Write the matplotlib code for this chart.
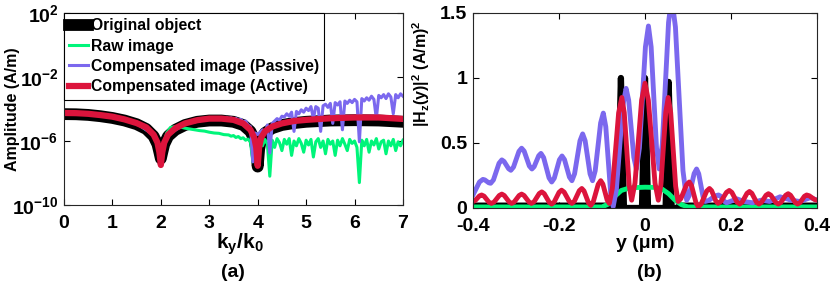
import numpy as np
import matplotlib
matplotlib.use('Agg')
import matplotlib.pyplot as plt

plt.rcParams['font.family'] = 'Liberation Sans'
plt.rcParams['font.weight'] = 'bold'
plt.rcParams['mathtext.fontset'] = 'custom'
plt.rcParams['mathtext.rm'] = 'Liberation Sans:bold'
plt.rcParams['mathtext.bf'] = 'Liberation Sans:bold'
plt.rcParams['mathtext.it'] = 'Liberation Sans:bold'
plt.rcParams['mathtext.default'] = 'bf'

# ---------------- panel (a): spectra, log10 of amplitude ----------------
k_smooth = [0, 0.25, 0.5, 0.75, 1, 1.25, 1.5, 1.7, 1.85, 1.93, 1.97, 2.0, 2.03, 2.07,
            2.15, 2.3, 2.5, 2.75, 3, 3.25, 3.5, 3.7, 3.85, 3.93, 3.97, 4.0, 4.03,
            4.07, 4.15, 4.3, 4.5, 4.75, 5, 5.5, 6, 6.5, 7]
log_orig = [-4.32, -4.33, -4.37, -4.45, -4.56, -4.72, -4.95, -5.25, -5.7, -6.2, -6.7,
            -7.1, -6.7, -6.2, -5.7, -5.3, -5.0, -4.8, -4.72, -4.72, -4.8, -5.0, -5.4,
            -5.9, -6.5, -7.6, -6.5, -5.9, -5.5, -5.2, -5.0, -4.88, -4.8, -4.72, -4.7,
            -4.72, -4.8]
log_active = [-4.25, -4.26, -4.3, -4.38, -4.48, -4.65, -4.88, -5.15, -5.6, -6.1, -6.7,
              -7.5, -6.7, -6.1, -5.6, -5.2, -4.9, -4.7, -4.6, -4.6, -4.68, -4.9, -5.3,
              -5.8, -6.4, -7.55, -6.4, -5.8, -5.4, -5.1, -4.9, -4.75, -4.68, -4.58,
              -4.53, -4.53, -4.62]

k_raw_a = [0, 0.5, 1, 1.5, 1.85, 1.97, 2.0, 2.05, 2.12, 2.2, 2.3, 2.4, 2.5, 2.6, 2.7,
           2.8, 2.9, 3.0, 3.1, 3.2, 3.3]
log_raw_a = [-4.27, -4.32, -4.5, -4.9, -5.6, -6.6, -7.3, -6.3, -5.5, -5.15, -5.1,
             -5.12, -5.2, -5.25, -5.3, -5.35, -5.38, -5.45, -5.5, -5.52, -5.6]
log_raw_b = [-5.62, -5.70, -5.66, -5.78, -5.72, -5.85, -5.80, -5.95, -5.88, -6.05,
             -7.3, -5.95, -6.1, -5.85, -6.3, -5.9, -6.2, -8.2, -5.95, -6.4,
             -5.85, -6.1, -6.6, -5.9, -6.2, -5.85, -6.9, -6.0, -6.3, -5.85,
             -6.15, -6.7, -5.95, -6.25, -5.9, -7.0, -6.05, -5.85, -6.4, -6.0,
             -6.8, -5.9, -6.2, -6.0, -6.9, -5.95, -6.3, -5.85, -6.2, -6.6,
             -5.9, -6.15, -6.0, -6.4, -8.6, -5.95, -6.3, -5.9, -6.7, -6.0,
             -6.25, -5.85, -6.5, -6.05, -5.95, -6.8, -6.0, -6.3, -5.9, -6.6,
             -6.05, -6.3, -5.95]
k_raw_b = np.linspace(3.4, 7.0, len(log_raw_b))

k_pas_a = [0, 0.5, 1, 1.5, 1.85, 1.97, 2.0, 2.03, 2.15, 2.5, 3.0, 3.2]
log_pas_a = [-4.27, -4.32, -4.5, -4.9, -5.62, -6.6, -7.3, -6.6, -5.62, -4.92, -4.62, -4.6]
log_pas_b = [-4.55, -4.62, -4.52, -4.6, -4.55, -4.65, -4.58, -4.7, -4.65, -4.8,
             -4.75, -5.0, -5.1, -7.3, -5.5, -5.6, -5.45, -5.3, -5.5, -5.0,
             -6.75, -4.9, -4.75, -4.6, -4.7, -4.45, -4.5, -4.3, -4.45, -4.2,
             -5.4, -4.15, -4.3, -4.05, -4.2, -3.95, -4.1, -3.85, -4.6, -3.85,
             -3.95, -5.4, -3.8, -3.7, -3.9, -3.65, -4.9, -3.6, -3.75, -3.55,
             -5.3, -3.5, -3.65, -3.45, -3.6, -3.4, -3.55, -6.05, -3.35, -3.5,
             -3.3, -3.45, -3.2, -3.4, -4.6, -3.15, -3.3, -3.1, -3.35, -3.05,
             -3.25, -4.3, -3.1, -3.3, -3.05, -3.2]
k_pas_b = np.linspace(3.25, 7.0, len(log_pas_b))

# ---------------- panel (b): field intensity ----------------
y_orig = [-0.40, -0.082, -0.074, -0.063, -0.059, -0.056, -0.053, -0.049, -0.007,
          -0.003, 0.0, 0.003, 0.007, 0.048, 0.052, 0.055, 0.058, 0.062, 0.073, 0.081,
          0.40]
I_orig = [0.018, 0.018, 0.0, 0.0, 0.6, 1.0, 0.6, 0.0, 0.0, 0.6, 1.0, 0.6, 0.0, 0.0,
          0.58, 0.97, 0.58, 0.0, 0.0, 0.018, 0.018]

y_raw = [-0.40, -0.10, -0.085, -0.07, -0.055, -0.035, 0.0, 0.025, 0.04, 0.055, 0.07,
         0.085, 0.10, 0.40]
I_raw = [0.008, 0.008, 0.03, 0.09, 0.135, 0.155, 0.16, 0.158, 0.145, 0.11, 0.06,
         0.025, 0.008, 0.008]

y_pas = [-0.400, -0.385, -0.377, -0.3725, -0.3635, -0.359, -0.3525, -0.3395, -0.333,
         -0.3278, -0.3172, -0.312, -0.3058, -0.2932, -0.287, -0.281, -0.269, -0.263,
         -0.2578, -0.2472, -0.242, -0.2358, -0.2232, -0.217, -0.211, -0.199, -0.193,
         -0.1872, -0.1758, -0.170, -0.1638, -0.1512, -0.145, -0.1392, -0.1278, -0.122,
         -0.1158, -0.1032, -0.097, -0.0912, -0.0798, -0.074, -0.0665, -0.0515, -0.044,
         -0.038, -0.026, -0.020, -0.013, 0.001, 0.008, 0.0143, 0.0268, 0.033, 0.0403,
         0.0548, 0.062, 0.0708, 0.0883, 0.097, 0.1028, 0.1143, 0.120, 0.125, 0.135,
         0.140, 0.1478, 0.1633, 0.171, 0.1758, 0.1853, 0.190, 0.214, 0.230, 0.25,
         0.27, 0.29, 0.314, 0.34, 0.36, 0.385, 0.40]
I_pas = [0.10, 0.20, 0.22, 0.216, 0.194, 0.19, 0.216, 0.344, 0.37, 0.358, 0.302, 0.29,
         0.315, 0.435, 0.46, 0.437, 0.323, 0.30, 0.318, 0.402, 0.42, 0.388, 0.232, 0.20,
         0.229, 0.371, 0.40, 0.372, 0.238, 0.21, 0.263, 0.517, 0.57, 0.517, 0.263, 0.21,
         0.286, 0.654, 0.73, 0.625, 0.115, 0.01, 0.143, 0.787, 0.92, 0.83, 0.39, 0.30,
         0.461, 1.239, 1.40, 1.239, 0.461, 0.30, 0.493, 1.427, 1.62, 1.392, 0.288, 0.06,
         0.095, 0.265, 0.30, 0.263, 0.087, 0.05, 0.057, 0.093, 0.10, 0.091, 0.049, 0.04,
         0.07, 0.05, 0.04, 0.06, 0.05, 0.086, 0.06, 0.05, 0.08, 0.06]

y_act = [-0.400, -0.395, -0.385, -0.380, -0.3743, -0.3628, -0.357, -0.351, -0.339,
         -0.333, -0.3273, -0.3158, -0.310, -0.3043, -0.2928, -0.287, -0.2813, -0.2698,
         -0.264, -0.258, -0.246, -0.240, -0.2343, -0.2228, -0.217, -0.2113, -0.1998,
         -0.194, -0.188, -0.176, -0.170, -0.1643, -0.1528, -0.147, -0.1418, -0.1313,
         -0.126, -0.1203, -0.1088, -0.103, -0.098, -0.088, -0.083, -0.0758, -0.0613,
         -0.054, -0.0483, -0.0368, -0.031, -0.0233, -0.0078, 0.0, 0.0078, 0.0233,
         0.031, 0.0368, 0.0483, 0.054, 0.0598, 0.0713, 0.077, 0.0835, 0.0965, 0.103,
         0.1083, 0.1188, 0.124, 0.1305, 0.1435, 0.150, 0.155, 0.165, 0.170, 0.1765,
         0.1895, 0.196, 0.202, 0.214, 0.220, 0.2258, 0.2373, 0.243, 0.2485, 0.2595,
         0.265, 0.2705, 0.2815, 0.287, 0.2928, 0.3043, 0.310, 0.3158, 0.3273, 0.333,
         0.3385, 0.3495, 0.355, 0.3603, 0.3708, 0.376, 0.382, 0.394, 0.40]
I_act = [0.05, 0.057, 0.093, 0.10, 0.091, 0.044, 0.035, 0.046, 0.096, 0.107, 0.096,
         0.046, 0.035, 0.046, 0.096, 0.107, 0.096, 0.046, 0.035, 0.048, 0.111, 0.124,
         0.110, 0.044, 0.03, 0.046, 0.121, 0.137, 0.122, 0.050, 0.035, 0.052, 0.133,
         0.15, 0.131, 0.039, 0.02, 0.048, 0.182, 0.21, 0.184, 0.061, 0.035, 0.154,
         0.731, 0.85, 0.735, 0.175, 0.06, 0.191, 0.829, 0.96, 0.829, 0.191, 0.06, 0.175,
         0.735, 0.85, 0.733, 0.167, 0.05, 0.072, 0.178, 0.20, 0.172, 0.038, 0.01, 0.030,
         0.130, 0.15, 0.133, 0.052, 0.035, 0.050, 0.120, 0.135, 0.120, 0.045, 0.03,
         0.044, 0.113, 0.127, 0.113, 0.044, 0.03, 0.042, 0.098, 0.11, 0.098, 0.042,
         0.03, 0.042, 0.098, 0.11, 0.098, 0.042, 0.03, 0.040, 0.090, 0.10, 0.094, 0.066,
         0.06]

labels = ['Original object', 'Raw image', 'Compensated image (Passive)',
          'Compensated image (Active)']
c_orig, c_raw, c_pas, c_act = 'black', '#00F57A', '#7B68EE', '#DC143C'

fig = plt.figure(figsize=(8.3, 2.9), dpi=100)
ax1 = fig.add_axes([0.0771, 0.2931, 0.4084, 0.6621])
ax2 = fig.add_axes([0.5699, 0.2828, 0.4144, 0.6724])

# panel (a)
ax1.semilogy(k_smooth, 10.0 ** np.array(log_orig), color=c_orig, lw=8.5, label=labels[0])
ax1.semilogy(np.r_[k_raw_a, k_raw_b], 10.0 ** np.r_[log_raw_a, log_raw_b], color=c_raw,
             lw=2.2, label=labels[1])
ax1.semilogy(np.r_[k_pas_a, k_pas_b], 10.0 ** np.r_[log_pas_a, log_pas_b], color=c_pas,
             lw=2.2, label=labels[2])
ax1.semilogy(k_smooth, 10.0 ** np.array(log_active), color=c_act, lw=4.5, label=labels[3])
ax1.set_xlim(0, 7)
ax1.set_ylim(1e-10, 1e2)
ax1.set_xticks(range(8))
ax1.set_yticks([1e-10, 1e-6, 1e-2, 1e2])
ax1.set_yticklabels([r'$10^{-10}$', r'$10^{-6}$', r'$10^{-2}$', r'$10^{2}$'])
ax1.minorticks_off()
ax1.set_ylabel('Amplitude (A/m)', fontsize=11.5, fontweight='bold')
ax1.yaxis.set_label_coords(-0.13, 0.5)
ax1.set_xlabel(r'$k_y/k_0$', fontsize=15)
ax1.xaxis.set_label_coords(0.52, -0.14)
leg = ax1.legend(loc='upper left', bbox_to_anchor=(0, 1), borderaxespad=0,
                 prop={'size': 11.3, 'weight': 'bold'}, handlelength=1.15,
                 handletextpad=0.2, labelspacing=0.33, borderpad=0.35,
                 fancybox=False, edgecolor='black', framealpha=1)
leg.get_frame().set_linewidth(0.8)

# panel (b)
ax2.plot(y_orig, I_orig, color=c_orig, lw=4.5)
ax2.plot(y_raw, I_raw, color=c_raw, lw=3.5)
ax2.plot(y_pas, I_pas, color=c_pas, lw=3.5)
ax2.plot(y_act, I_act, color=c_act, lw=3.5)
ax2.set_xlim(-0.4, 0.4)
ax2.set_ylim(0, 1.5)
ax2.set_xticks([-0.4, -0.2, 0, 0.2, 0.4])
ax2.set_xticklabels(['-0.4', '-0.2', '0', '0.2', '0.4'])
ax2.set_yticks([0, 0.5, 1, 1.5])
ax2.set_yticklabels(['0', '0.5', '1', '1.5'])
ax2.set_ylabel(r'$|H_z(y)|^2\ (A/m)^2$', fontsize=11.5)
ax2.yaxis.set_label_coords(-0.118, 0.69)
ax2.set_xlabel('y (μm)', fontsize=14, fontweight='bold')
ax2.xaxis.set_label_coords(0.5, -0.14)

for ax in (ax1, ax2):
    ax.tick_params(direction='in', length=4, width=0.8, top=True, right=True,
                   labelsize=14)
    ax.tick_params(axis='x', pad=7)
    ax.tick_params(axis='y', pad=4)
    for s in ax.spines.values():
        s.set_linewidth(0.8)
        s.set_color('#262626')

fig.text(0.281, 0.062, '(a)', ha='center', va='center', fontsize=14, fontweight='bold')
fig.text(0.783, 0.062, '(b)', ha='center', va='center', fontsize=14, fontweight='bold')

fig.savefig('out.png', dpi=100)
